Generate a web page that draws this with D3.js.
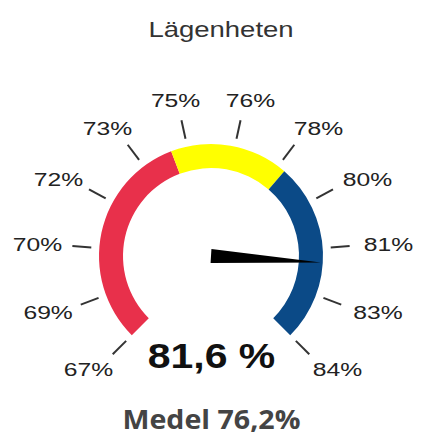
<!DOCTYPE html>
<html>
<head>
<meta charset="utf-8">
<script src="https://cdn.jsdelivr.net/npm/d3@7"></script>
<style>
  html, body { margin: 0; padding: 0; background: #fff; }
  svg { display: block; }
</style>
</head>
<body>
<svg id="chart" width="430" height="436"></svg>
<script>
// ---- data ----
const title = "Lägenheten";
const scaleMin = 66.8;
const scaleMax = 84.3;
const tickLabels = ["67%", "69%", "70%", "72%", "73%", "75%", "76%", "78%", "80%", "81%", "83%", "84%"];
const bandStarts = [66.8, 74.2, 78.2];
const bandEnds = [74.2, 78.2, 84.3];
const bandColors = ["#e8304b", "#ffff00", "#0b4a87"];
const value = 81.6;
const valueLabel = "81,6 %";
const averageLabel = "Medel 76,2%";

// ---- layout ----
const svg = d3.select("#chart");
const cx = 211, cy = 256;
const rInner = 88, rOuter = 112;
const deg = Math.PI / 180;

const angle = d3.scaleLinear().domain([scaleMin, scaleMax]).range([-135 * deg, 135 * deg]);
const tickAngle = d3.scaleLinear().domain([0, tickLabels.length - 1]).range([-135 * deg, 135 * deg]);

const g = svg.append("g").attr("transform", `translate(${cx},${cy})`);

// bands
const arc = d3.arc().innerRadius(rInner).outerRadius(rOuter);
g.selectAll("path.band")
  .data(bandStarts.map((s, i) => ({ s, e: bandEnds[i], c: bandColors[i] })))
  .join("path")
  .attr("class", "band")
  .attr("d", d => arc({ startAngle: angle(d.s), endAngle: angle(d.e) }))
  .attr("fill", d => d.c);

// ticks
g.selectAll("line.tick")
  .data(tickLabels)
  .join("line")
  .attr("class", "tick")
  .attr("x1", (d, i) => 120 * Math.sin(tickAngle(i)))
  .attr("y1", (d, i) => -120 * Math.cos(tickAngle(i)))
  .attr("x2", (d, i) => 139 * Math.sin(tickAngle(i)))
  .attr("y2", (d, i) => -139 * Math.cos(tickAngle(i)))
  .attr("stroke", "#333")
  .attr("stroke-width", 2);

// tick labels
g.selectAll("text.tl")
  .data(tickLabels)
  .join("text")
  .attr("class", "tl")
  .attr("transform", (d, i) => {
    const a = tickAngle(i);
    const x = 2 + 176 * Math.sin(a);
    const y = -160 * Math.cos(a);
    return `translate(${x},${y}) scale(1.3,1)`;
  })
  .attr("text-anchor", "middle")
  .attr("dy", "0.36em")
  .attr("font-family", "Liberation Sans, Arial, sans-serif")
  .attr("font-size", 19)
  .attr("fill", "#222")
  .text(d => d);

// needle
const na = angle(value);
const tipR = 110, halfW = 7;
const tip = [tipR * Math.sin(na), -tipR * Math.cos(na)];
const perp = [Math.cos(na), Math.sin(na)];
g.append("path")
  .attr("d", d3.line()([
    [perp[0] * halfW, perp[1] * halfW],
    tip,
    [-perp[0] * halfW, -perp[1] * halfW]
  ]) + "Z")
  .attr("fill", "#000");

// title
svg.append("text")
  .attr("transform", "translate(221,37) scale(1.25,1)")
  .attr("text-anchor", "middle")
  .attr("font-family", "Liberation Sans, Arial, sans-serif")
  .attr("font-size", 22)
  .attr("fill", "#333")
  .text(title);

// value
svg.append("text")
  .attr("transform", "translate(211.5,368) scale(1.17,1)")
  .attr("text-anchor", "middle")
  .attr("font-family", "Liberation Sans, Arial, sans-serif")
  .attr("font-weight", "bold")
  .attr("font-size", 35)
  .attr("fill", "#111")
  .text(valueLabel);

// average
svg.append("text")
  .attr("transform", "translate(211.5,429) scale(1.1,1)")
  .attr("text-anchor", "middle")
  .attr("font-family", "Open Sans, sans-serif")
  .attr("font-weight", "bold")
  .attr("font-size", 26)
  .attr("fill", "#444")
  .text(averageLabel);
</script>
</body>
</html>
